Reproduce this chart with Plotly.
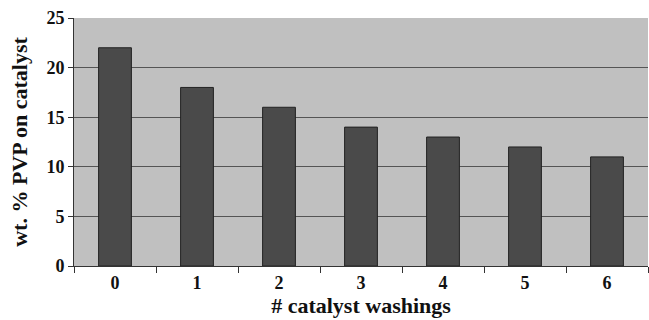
import plotly.graph_objects as go

# Number of catalyst washings and PVP remaining on the catalyst (wt. %)
washings = ["0", "1", "2", "3", "4", "5", "6"]
pvp_wt_pct = [22, 18, 16, 14, 13, 12, 11]
y_ticks = [0, 5, 10, 15, 20, 25]

font_family = "Liberation Serif"
text_color = "#111111"

fig = go.Figure(
    go.Bar(
        x=washings,
        y=pvp_wt_pct,
        width=0.4,
        marker=dict(color="#4a4a4a", line=dict(color="#222222", width=1)),
    )
)

fig.update_layout(
    width=649,
    height=320,
    margin=dict(l=74, r=1, t=18, b=54),
    paper_bgcolor="white",
    plot_bgcolor="#c0c0c0",
    showlegend=False,
    font=dict(family=font_family, size=18, color=text_color),
)

fig.update_xaxes(
    type="category",
    range=[-0.5, 6.5],
    tickvals=washings,
    ticktext=[f"<b>{w}</b>" for w in washings],
    tickson="boundaries",
    ticks="outside",
    ticklen=6,
    tickcolor="#333333",
    showgrid=False,
    showline=True,
    linecolor="#333333",
    linewidth=1,
    tickfont=dict(family=font_family, size=18, color=text_color),
    title=dict(
        text="<b># catalyst washings</b>",
        font=dict(family=font_family, size=22, color=text_color),
        standoff=3,
    ),
)

fig.update_yaxes(
    range=[0, 25],
    tickvals=y_ticks,
    ticktext=[f"<b>{v}</b>" for v in y_ticks],
    ticks="outside",
    ticklen=5,
    tickcolor="#333333",
    showgrid=True,
    gridcolor="#555555",
    gridwidth=1,
    showline=True,
    linecolor="#333333",
    linewidth=1,
    zeroline=False,
    tickfont=dict(family=font_family, size=18, color=text_color),
    title=dict(
        text="<b>wt. % PVP on catalyst</b>",
        font=dict(family=font_family, size=22, color=text_color),
        standoff=12,
    ),
)

fig.write_html("out.html")
